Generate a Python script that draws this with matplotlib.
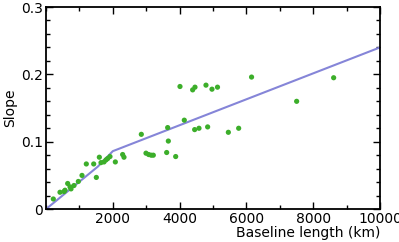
import matplotlib
matplotlib.use("Agg")
import matplotlib.pyplot as plt
from matplotlib.ticker import MultipleLocator, FixedLocator, FixedFormatter

# measured points: baseline length (km) vs slope
baseline_km = [219, 419, 539, 569, 649, 719, 749, 838, 968, 1078,
               1207, 1428, 1507, 1597, 1647, 1737, 1796, 1846, 1916, 2076,
               2295, 2335, 2854, 2994, 3074, 3150, 3213, 3613, 3643, 3663,
               3883, 4012, 4141, 4391, 4461, 4451, 4581, 4790, 4840, 4970,
               5135, 5460, 5769, 6155, 7505, 8613]
slope = [0.015, 0.025, 0.026, 0.028, 0.038, 0.033, 0.030, 0.035, 0.041, 0.050,
         0.067, 0.067, 0.047, 0.077, 0.069, 0.070, 0.073, 0.075, 0.078, 0.070,
         0.081, 0.077, 0.111, 0.083, 0.081, 0.080, 0.080, 0.084, 0.121, 0.101,
         0.078, 0.182, 0.132, 0.177, 0.181, 0.118, 0.120, 0.184, 0.122, 0.178,
         0.181, 0.114, 0.120, 0.196, 0.160, 0.195]

# fitted broken line
fit_km = [0, 1550, 2000, 10000]
fit_slope = [0, 0.063, 0.086, 0.24]

y_ticks = [0, 0.1, 0.2, 0.3]
y_labels = ['0', '0.1', '0.2', '0.3']
x_ticks = [2000, 4000, 6000, 8000, 10000]

fig = plt.figure(figsize=(3.99, 2.42), dpi=100)
ax = fig.add_axes([0.1153, 0.136, 0.837, 0.835])

ax.plot(fit_km, fit_slope, color='#8585d8', lw=1.5, zorder=2)
ax.scatter(baseline_km, slope, s=14, color='#3cae2a', edgecolors='none', zorder=3)

ax.set_xlim(0, 10000)
ax.set_ylim(0, 0.3)
ax.xaxis.set_major_locator(FixedLocator(x_ticks))
ax.xaxis.set_minor_locator(MultipleLocator(1000))
ax.yaxis.set_major_locator(FixedLocator(y_ticks))
ax.yaxis.set_major_formatter(FixedFormatter(y_labels))
ax.yaxis.set_minor_locator(MultipleLocator(0.02))

ax.tick_params(which='both', direction='in', top=True, right=True, width=1, labelsize=10, pad=2)
ax.tick_params(which='major', length=5)
ax.tick_params(which='minor', length=3)
for s in ax.spines.values():
    s.set_linewidth(1.3)

ax.set_xlabel('Baseline length (km)', loc='right', fontsize=10, labelpad=0)
ax.set_ylabel('Slope', fontsize=10, labelpad=3)

fig.savefig('out.png', dpi=100)
